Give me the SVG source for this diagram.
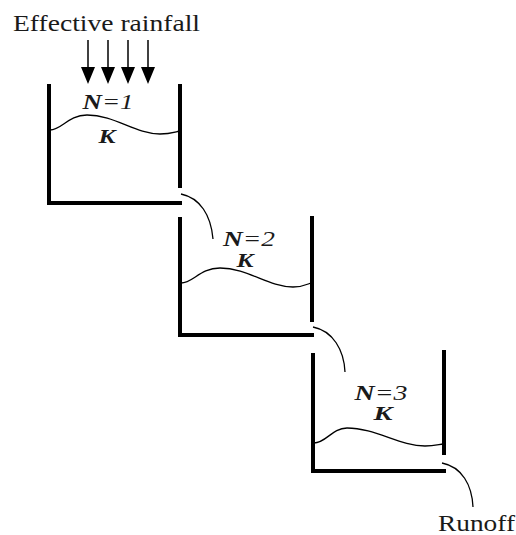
<svg xmlns="http://www.w3.org/2000/svg" width="516" height="535" viewBox="0 0 516 535">
<style>
.wall{stroke:#000;stroke-width:4;fill:none;stroke-linecap:butt}
.thin{stroke:#000;stroke-width:1.3;fill:none}
</style>
<rect width="516" height="535" fill="#fff"/>
<g font-family="'Liberation Serif','Times New Roman',serif" fill="#1a1a1a">
<text x="13" y="31" font-size="23" textLength="187" lengthAdjust="spacingAndGlyphs">Effective rainfall</text>
<g id="rain">
<line x1="88" y1="40" x2="88" y2="70" stroke="#000" stroke-width="1.5"/>
<line x1="108" y1="40" x2="108" y2="70" stroke="#000" stroke-width="1.5"/>
<line x1="128" y1="40" x2="128" y2="70" stroke="#000" stroke-width="1.5"/>
<line x1="148" y1="40" x2="148" y2="70" stroke="#000" stroke-width="1.5"/>
<path d="M81,67 L95,67 L88,84 Z M101,67 L115,67 L108,84 Z M121,67 L135,67 L128,84 Z M141,67 L155,67 L148,84 Z" fill="#000"/>
</g>
<g id="tank1">
<path class="wall" d="M49,84 V203 H182"/>
<line class="wall" x1="180" y1="84" x2="180" y2="188"/>
<path class="thin" d="M50,130 C62,130 68,115 87,115 C115,115 135,134 160,134 C170,134 175,132 180,131"/>
<text x="108" y="109" font-size="22" font-style="italic" text-anchor="middle" textLength="51" lengthAdjust="spacingAndGlyphs"><tspan font-weight="bold">N</tspan>=1</text>
<text x="107" y="143" font-size="19" font-style="italic" font-weight="bold" text-anchor="middle" textLength="17" lengthAdjust="spacingAndGlyphs">K</text>
</g>
<g id="tank2">
<path class="wall" d="M180,217 V335 H314"/>
<line class="wall" x1="312" y1="216" x2="312" y2="322"/>
<path class="thin" d="M181,283 C193,283 200,268 220,268 C248,268 268,287 293,287 C303,287 308,284 311,283"/>
<text x="249" y="246" font-size="22" font-style="italic" text-anchor="middle" textLength="52" lengthAdjust="spacingAndGlyphs"><tspan font-weight="bold">N</tspan>=2</text>
<text x="245" y="267" font-size="19" font-style="italic" font-weight="bold" text-anchor="middle" textLength="17" lengthAdjust="spacingAndGlyphs">K</text>
</g>
<g id="tank3">
<path class="wall" d="M313,353 V471 H446"/>
<line class="wall" x1="444" y1="350" x2="444" y2="455"/>
<path class="thin" d="M314,443 C326,443 332,428 347,428 C375,428 400,446 425,446 C435,446 440,444 443,444"/>
<text x="381" y="400" font-size="22" font-style="italic" text-anchor="middle" textLength="53" lengthAdjust="spacingAndGlyphs"><tspan font-weight="bold">N</tspan>=3</text>
<text x="383" y="420" font-size="19" font-style="italic" font-weight="bold" text-anchor="middle" textLength="19" lengthAdjust="spacingAndGlyphs">K</text>
</g>
<g id="connectors">
<path class="thin" d="M181,194 C200,198 211,215 213,239"/>
<path class="thin" d="M313,327 C333,331 344,350 345,372"/>
<path class="thin" d="M442,463 C462,467 472,485 473,507"/>
</g>
<text x="438" y="531" font-size="23" textLength="77" lengthAdjust="spacingAndGlyphs">Runoff</text>
</g>
</svg>
